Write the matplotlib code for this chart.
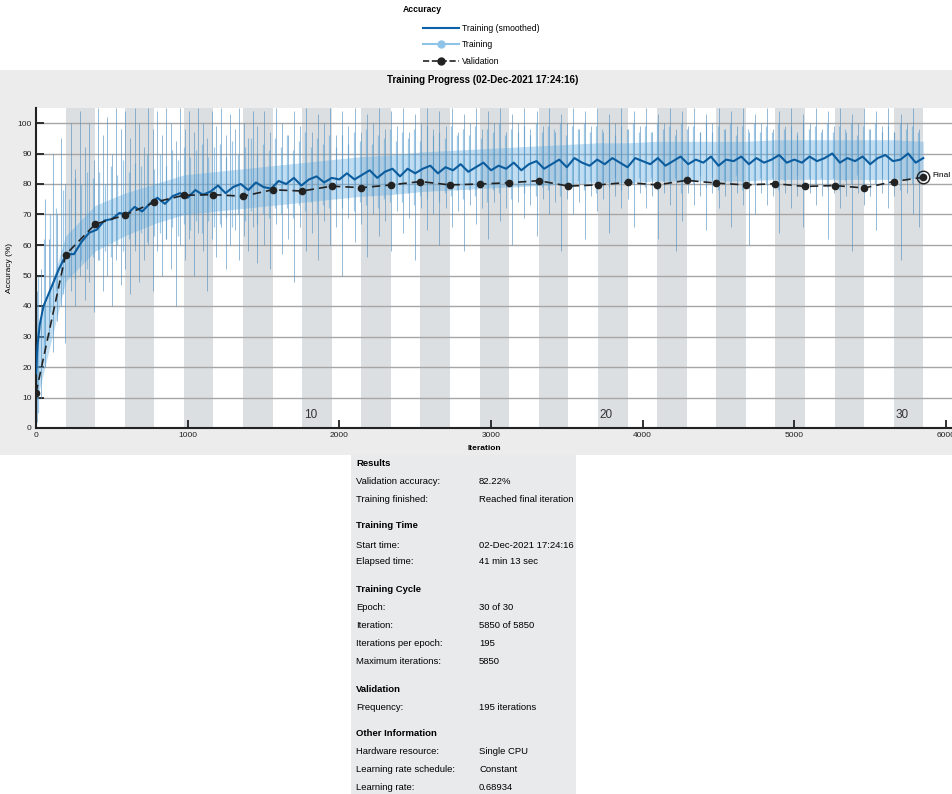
import matplotlib
matplotlib.use("Agg")
import matplotlib.pyplot as plt
from matplotlib.lines import Line2D
from matplotlib.patches import Rectangle

plt.rcParams['font.family'] = ['Liberation Sans', 'DejaVu Sans']

# ---- data ----
iters_per_epoch = 195
n_epochs = 30
max_iter = 5850

# smoothed training accuracy
smooth_iter = [0, 10, 25] + list(range(50, 5851, 50))
smooth_acc = [18, 27, 34,
              40, 46, 52, 57, 57, 61, 64, 65, 68, 68.5,
              70.5, 70, 72.5, 71, 73.5, 75.5, 73.5, 76, 77, 75.5,
              78, 76.5, 77.5, 79.5, 77, 79, 80, 78, 80.5, 79,
              78.5, 81, 80, 82, 79.5, 81.5, 82.5, 80.5, 82, 81.5,
              83.5, 81.5, 83, 84.5, 82, 84, 85, 82.5, 85, 83.5,
              85, 86, 83.5, 85.5, 84.5, 86.5, 84, 85.5, 87, 84.5,
              86, 85, 87, 84.5, 86.5, 87.5, 85, 86.5, 88, 85.5,
              88.5, 87, 86, 88, 86.5, 88.5, 87, 85.5, 88.5, 87.5,
              86.5, 88.5, 86, 87.5, 89, 86.5, 88, 87, 89, 86,
              88, 87.5, 89, 86.5, 88.5, 87, 88, 89.5, 87, 88,
              87, 89, 87.5, 88.5, 90, 87, 88.5, 87.5, 89, 86.5,
              88.5, 89.5, 87.5, 88, 90, 87, 88.5]

# raw training accuracy: haze around the smoothed curve (per epoch boundary)
band_iter = list(range(0, 5851, 195))
inner_hi = [30, 63, 73, 77, 80, 83, 84, 85, 86, 87, 88, 89, 89.5, 90.5, 91, 91.5,
            92, 92.5, 93, 93.5, 93.5, 94, 94, 94, 94, 94.5, 94.5, 94.5, 94.5, 94.5, 94]
inner_lo = [8, 48, 58, 63, 67, 70, 71, 72, 73, 74, 75, 76, 76.5, 77.5, 78, 78.5,
            79, 79.5, 80, 80.5, 80.5, 81, 81, 81, 81, 81.5, 81.5, 81.5, 81.5, 81.5, 82]

# raw training accuracy: large spikes (iteration, lowest, highest)
spike_iter = [5, 30, 60, 85, 110, 140, 165, 190, 230, 260,
              290, 320, 350, 380, 410, 440, 470, 500, 530, 560,
              590, 620, 650, 680, 710, 740, 770, 800, 830, 860,
              890, 920, 950, 980, 1010, 1040, 1070, 1100, 1130, 1160,
              1190, 1220, 1250, 1280, 1310, 1340, 1370, 1400, 1430, 1460,
              1500, 1540, 1580, 1620, 1660, 1700, 1740, 1780, 1820, 1860,
              1900, 1940, 1980, 2020, 2060, 2100, 2140, 2180, 2220, 2260,
              2300, 2340, 2380, 2420, 2460, 2500, 2540, 2580, 2620, 2660,
              2700, 2740, 2780, 2820, 2860, 2900, 2940, 2980, 3020, 3060,
              3100, 3140, 3180, 3220, 3260, 3300, 3340, 3380, 3420, 3460,
              3500, 3540, 3580, 3620, 3660, 3700, 3740, 3780, 3820, 3860,
              3900, 3940, 3980, 4020, 4060, 4100, 4140, 4180, 4220, 4260,
              4300, 4340, 4380, 4420, 4460, 4500, 4540, 4580, 4620, 4660,
              4700, 4740, 4780, 4820, 4860, 4900, 4940, 4980, 5020, 5060,
              5100, 5140, 5180, 5220, 5260, 5300, 5340, 5380, 5420, 5460,
              5500, 5540, 5580, 5620, 5660, 5700, 5740, 5780, 5820]
spike_lo = [2, 10, 20, 30, 25, 35, 40, 28, 45, 40,
            50, 42, 48, 38, 55, 45, 50, 40, 55, 47,
            52, 44, 58, 48, 55, 60, 45, 58, 50, 62,
            52, 40, 60, 55, 62, 50, 64, 58, 45, 62,
            56, 66, 52, 60, 65, 55, 63, 58, 66, 54,
            60, 52, 67, 57, 62, 48, 66, 58, 64, 55,
            68, 60, 66, 50, 69, 61, 67, 56, 70, 63,
            68, 58, 71, 64, 69, 55, 72, 65, 70, 60,
            72, 66, 71, 58, 73, 67, 72, 62, 74, 68,
            72, 60, 74, 69, 73, 63, 75, 70, 74, 58,
            75, 70, 74, 62, 76, 71, 75, 64, 76, 72,
            75, 66, 77, 72, 76, 62, 77, 73, 58, 68,
            77, 73, 76, 65, 77, 72, 76, 66, 77, 73,
            60, 70, 77, 73, 76, 64, 77, 72, 76, 66,
            77, 73, 76, 62, 77, 72, 76, 58, 77, 73,
            76, 65, 77, 72, 76, 55, 77, 70, 66]
spike_hi = [45, 52, 75, 62, 90, 70, 95, 80, 100, 85,
            104, 92, 100, 88, 105, 96, 102, 90, 105, 98,
            104, 95, 105, 100, 92, 105, 98, 104, 96, 105,
            100, 94, 105, 98, 104, 97, 105, 100, 95, 104,
            99, 105, 96, 103, 98, 105, 100, 95, 104, 99,
            104, 97, 105, 100, 96, 104, 99, 105, 97, 103,
            100, 105, 96, 104, 99, 105, 97, 103, 100, 105,
            98, 104, 99, 105, 97, 103, 100, 105, 98, 104,
            99, 105, 97, 103, 100, 105, 98, 104, 100, 105,
            97, 103, 100, 105, 98, 104, 99, 105, 97, 103,
            100, 105, 98, 104, 99, 105, 97, 103, 100, 105,
            98, 104, 99, 105, 97, 103, 100, 105, 98, 104,
            99, 105, 97, 103, 100, 105, 98, 104, 99, 105,
            97, 103, 100, 105, 98, 104, 99, 105, 97, 103,
            100, 105, 98, 104, 99, 105, 97, 103, 100, 105,
            98, 104, 99, 105, 97, 103, 100, 105, 98]

# raw training accuracy: smaller swings between the large spikes
short_iter = list(range(15, 5850, 40))
short_lo = [5, 25, 38, 45, 44, 50, 49, 55, 52, 56,
            55, 58, 56, 60, 58, 62, 60, 64, 61, 63,
            64, 62, 66, 63, 67, 65, 68, 64, 68, 66,
            67, 69, 66, 70, 68, 71, 67, 70, 69, 72,
            70, 72, 69, 73, 71, 74, 70, 73, 72, 75,
            72, 75, 71, 74, 73, 76, 72, 75, 74, 77,
            74, 77, 73, 76, 75, 78, 74, 77, 76, 78,
            75, 78, 76, 79, 74, 78, 77, 80, 75, 79,
            77, 80, 76, 79, 78, 81, 76, 80, 79, 81,
            78, 81, 77, 80, 79, 82, 78, 81, 80, 82,
            79, 82, 78, 81, 80, 82, 77, 81, 80, 83,
            79, 82, 78, 81, 80, 83, 78, 81, 80, 82,
            80, 82, 78, 81, 80, 83, 79, 82, 80, 82,
            79, 82, 78, 81, 80, 83, 79, 81, 80, 82,
            80, 82, 78, 81, 80, 82]
short_hi = [50, 62, 70, 72, 78, 75, 82, 80, 84, 82,
            84, 80, 86, 83, 88, 84, 87, 86, 90, 85,
            90, 86, 91, 88, 92, 89, 91, 93, 89, 92,
            93, 89, 94, 90, 92, 95, 90, 93, 91, 95,
            92, 96, 91, 94, 97, 92, 95, 93, 96, 92,
            96, 93, 97, 94, 98, 93, 96, 95, 98, 94,
            97, 95, 98, 94, 99, 96, 97, 95, 99, 96,
            98, 96, 99, 95, 98, 97, 100, 96, 98, 97,
            99, 96, 100, 97, 99, 98, 100, 96, 99, 98,
            100, 97, 99, 98, 100, 96, 99, 98, 100, 97,
            99, 97, 100, 98, 99, 96, 100, 98, 99, 97,
            100, 97, 99, 98, 100, 96, 99, 98, 100, 97,
            99, 97, 100, 98, 99, 96, 100, 98, 99, 97,
            100, 97, 99, 98, 100, 96, 99, 98, 100, 97,
            99, 97, 100, 98, 99, 97]

# validation accuracy, once per epoch
val_iter = list(range(0, 5851, 195))
val_acc = [11.5, 56.8, 66.8, 69.8, 74.0, 76.3, 76.5, 76.0, 78.1, 77.7,
           79.3, 78.8, 79.7, 80.8, 79.7, 80.0, 80.4, 81.1, 79.3, 79.7,
           80.5, 79.7, 81.2, 80.3, 79.7, 80.1, 79.2, 79.5, 78.7, 80.8, 82.2]

info_rows = [
    ("Results", None),
    ("Validation accuracy:", "82.22%"),
    ("Training finished:", "Reached final iteration"),
    ("Training Time", None),
    ("Start time:", "02-Dec-2021 17:24:16"),
    ("Elapsed time:", "41 min 13 sec"),
    ("Training Cycle", None),
    ("Epoch:", "30 of 30"),
    ("Iteration:", "5850 of 5850"),
    ("Iterations per epoch:", "195"),
    ("Maximum iterations:", "5850"),
    ("Validation", None),
    ("Frequency:", "195 iterations"),
    ("Other Information", None),
    ("Hardware resource:", "Single CPU"),
    ("Learning rate schedule:", "Constant"),
    ("Learning rate:", "0.68934"),
]
info_y = [464, 481, 499, 526, 545, 562, 590, 608, 626, 644, 662, 689, 708, 734, 752, 770, 788]

# ---- figure ----
W, H = 953, 794
fig = plt.figure(figsize=(W / 100, H / 100), dpi=100)


def px(x, y):
    return x / W, 1 - y / H


# grey panels
fig.add_artist(Rectangle(px(0, 455), 1, (455 - 70) / H, transform=fig.transFigure,
                         facecolor='#ececec', edgecolor='none', zorder=0))
fig.add_artist(Rectangle(px(351, 794), (576 - 351) / W, (794 - 455) / H,
                         transform=fig.transFigure, facecolor='#e9eaeb',
                         edgecolor='none', zorder=0))

# legend on top
fig.text(*px(403, 10), "Accuracy", fontsize=6.2, fontweight='bold', va='center', ha='left')
handles = [Line2D([], [], color='#0b62a8', lw=1.5),
           Line2D([], [], color='#8fc4e8', lw=1.5, marker='o', ms=5),
           Line2D([], [], color='#222222', lw=1.2, ls='--', marker='o', ms=5)]
fig.legend(handles, ["Training (smoothed)", "Training", "Validation"],
           loc='upper left', bbox_to_anchor=px(423, 24), frameon=False,
           fontsize=6.2, handlelength=4.2, handletextpad=0.3, labelspacing=0.85,
           borderpad=0, borderaxespad=0)

fig.text(*px(483, 80), "Training Progress (02-Dec-2021 17:24:16)", fontsize=7,
         fontweight='bold', ha='center', va='center')

# main axes
ax = fig.add_axes([36 / W, 1 - 428 / H, (W - 36) / W, (428 - 107.75) / H])
ax.set_facecolor('white')
ax.set_xlim(0, 6046)
ax.set_ylim(0, 105)

for e in range(2, n_epochs + 1, 2):
    ax.axvspan((e - 1) * iters_per_epoch, e * iters_per_epoch, color='#dcdfe1', lw=0, zorder=0.5)
for e in (10, 20, 30):
    ax.text((e - 1) * iters_per_epoch + 12, 2.2, str(e), fontsize=8.5, color='#333333',
            ha='left', va='bottom', zorder=5)

ax.set_axisbelow('line')
ax.yaxis.grid(True, color='#a6a6a6', lw=1.0)
ax.set_yticks(range(0, 101, 10))
ax.set_xticks(range(0, 6001, 1000))

# raw training
ax.fill_between(band_iter, inner_lo, inner_hi, color='#6aafdf', alpha=0.42, lw=0, zorder=2)
ax.vlines(short_iter, short_lo, short_hi, color='#5fa8da', lw=0.9, alpha=0.6, zorder=2)
ax.vlines(spike_iter, spike_lo, spike_hi, color='#4f8dbd', lw=0.7, alpha=0.6, zorder=2)

# smoothed training
ax.plot(smooth_iter, smooth_acc, color='#0b5c9e', lw=1.5, zorder=3)

# validation
ax.plot(val_iter, val_acc, color='#222222', lw=1.2, ls=(0, (5, 3)), marker='o', ms=4.5,
        zorder=4)
ax.plot(val_iter[-1], val_acc[-1], marker='o', ms=9, mfc='none', mec='#222222', mew=1.0,
        zorder=4)
ax.text(val_iter[-1] + 60, val_acc[-1] + 0.5, "Final", fontsize=6, va='center', ha='left',
        zorder=5)

for side in ('top', 'right'):
    ax.spines[side].set_visible(False)
for side in ('left', 'bottom'):
    ax.spines[side].set_linewidth(1.5)
    ax.spines[side].set_color('#222222')
ax.tick_params(direction='in', length=6, width=1.3, labelsize=6, pad=3, colors='#222222')

fig.text(*px(10, 268), "Accuracy (%)", fontsize=6, rotation=90, ha='center', va='center')
fig.text(*px(484, 448), "Iteration", fontsize=6, fontweight='bold', ha='center', va='center')

# results panel
for (label, value), y in zip(info_rows, info_y):
    if value is None:
        fig.text(*px(356, y), label, fontsize=6.8, fontweight='bold', va='center')
    else:
        fig.text(*px(356, y), label, fontsize=6.8, va='center')
        fig.text(*px(479, y), value, fontsize=6.8, va='center')

fig.savefig('out.png', dpi=100)
